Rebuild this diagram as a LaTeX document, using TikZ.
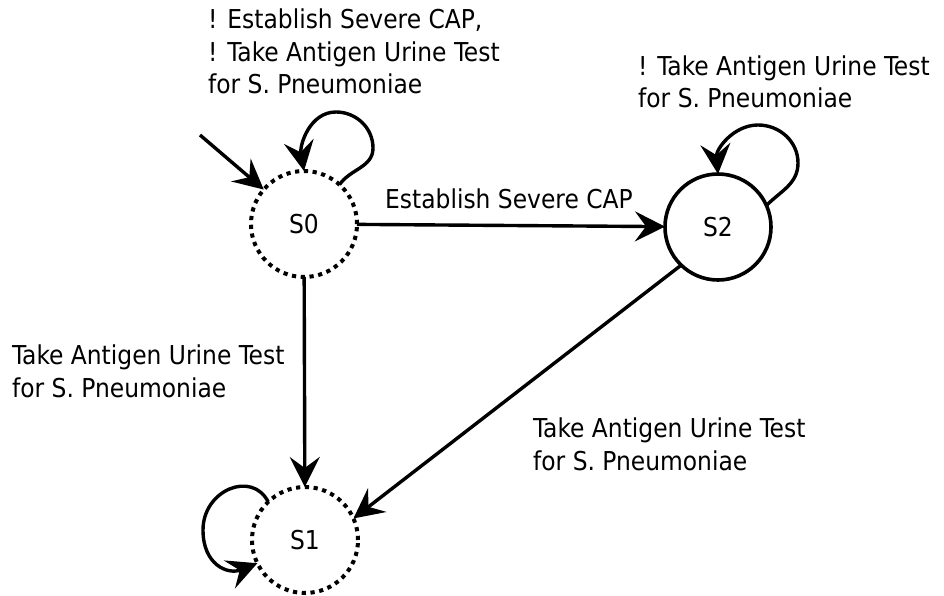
\documentclass[tikz,border=0pt]{standalone}
\usepackage{fontspec}
\setmainfont{DejaVu Sans Condensed}
\usetikzlibrary{arrows.meta}
\begin{document}
\begin{tikzpicture}[x=1pt,y=1pt,
  every node/.style={font=\fontsize{26}{32.5}\selectfont},
  statebase/.style={circle,minimum size=106pt,inner sep=0pt,outer sep=0pt},
  solidstate/.style={statebase,draw,line width=3.6pt},
  dotstate/.style={statebase,draw,line width=4pt,dash pattern=on 4.2pt off 4.6pt},
  trans/.style={line width=3.4pt,-{Stealth[length=30pt,width=30pt,inset=11pt]}},
  lbl/.style={anchor=base west,align=left,inner sep=0pt}]
\useasboundingbox (0,0) rectangle (944,-596);

% states
\node[dotstate]   (S0) at (304,-224) {S0};
\node[solidstate] (S2) at (718,-227) {S2};
\node[dotstate]   (S1) at (305,-540) {S1};
\coordinate (init) at (200,-135);

% transitions
\draw[trans] (init) -- (S0);
\draw[trans] (S0) -- (S2);
\draw[trans] (S0) -- (S1);
\draw[trans] (S2.226) -- (S1.24);

% self loops
\draw[trans] (S0.48) to[out=55,in=-90] (373,-148) to[out=90,in=0] (336,-112)
  to[out=180,in=100] (S0.90);
\draw[trans] (S2.24) to[out=45,in=-90] (798,-163) to[out=90,in=0] (758,-125)
  to[out=180,in=95] (S2.90);
\draw[trans] (S1.134) .. controls (252,-470) and (203,-490) .. (203,-530)
  .. controls (203,-565) and (228,-575) .. (S1.206);

% labels (anchored at the baseline of their last line)
\node[lbl] (l0) at (208,-94) {! Establish Severe CAP,\\! Take Antigen Urine Test\\for S. Pneumoniae};
\node[lbl] (l2) at (638,-108) {! Take Antigen Urine Test\\for S. Pneumoniae};
\node[lbl] (l02) at (385,-208) {Establish Severe CAP};
\node[lbl] (l01) at (12,-397) {Take Antigen Urine Test\\for S. Pneumoniae};
\node[lbl] (l21) at (533,-470) {Take Antigen Urine Test\\for S. Pneumoniae};
\end{tikzpicture}
\end{document}
